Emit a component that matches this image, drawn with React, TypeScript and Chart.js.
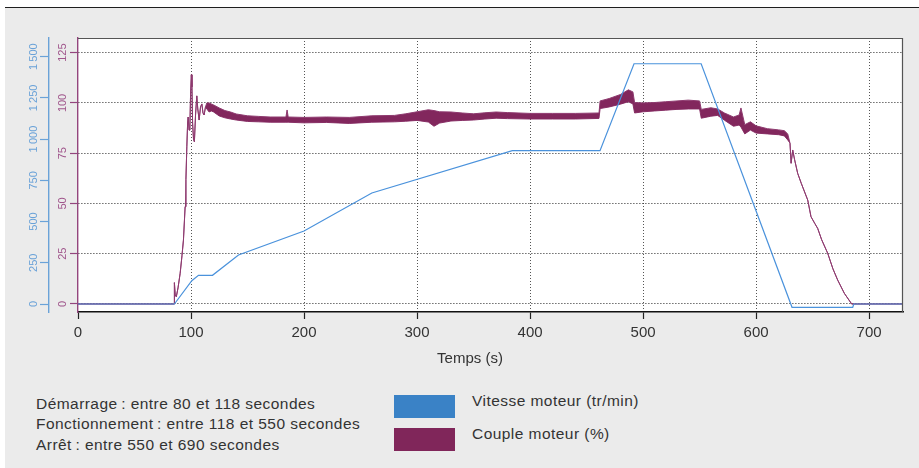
import { useEffect, useRef } from "react";
import { Chart, registerables } from "chart.js";

Chart.register(...registerables);

// Vitesse moteur (tr/min) en fonction du temps (s)
const tempsVitesse = [0, 85.3, 100.7, 106.6, 119, 142, 200, 260, 384.3, 461.9, 492, 551.4, 631.8, 685.5, 686.5, 730];
const vitesse = [0, 0, 141, 174, 174, 297, 443, 673, 930, 930, 1457, 1457, -20, -20, 0, 0];

// Couple moteur (%) : enveloppe haute et basse du signal mesuré
const tempsCouple = [
  0, 85, 85.3, 86, 87, 88.5, 90.4, 92, 93.3, 94.8, 95.5, 96.3, 97, 97.5, 98.3, 99, 99.6, 100.3, 100.8,
  101.4, 102.2, 103, 104, 105.1, 106, 107.2, 108.4, 109.6, 110.6, 111.6, 112.8, 114, 116, 118, 120,
  125, 130, 135, 140, 150, 160, 170, 184, 185, 186, 200, 220, 240, 260, 280, 290, 300, 310, 315, 320,
  330, 340, 350, 360, 370, 380, 400, 420, 440, 461, 462, 470, 480, 487, 491, 492.5, 500, 510, 520, 530,
  540, 550, 551.5, 560, 566, 572, 580, 585, 586.6, 590, 595, 600, 610, 620, 625, 628, 630, 631, 632.4,
  634, 636.8, 640, 645.7, 648.6, 652, 654.5, 658, 663.4, 668, 672.2, 678.1, 684.6, 730,
];
const coupleHaut = [
  0, 0, 10.6, 4.5, 3.6, 8, 15.3, 24, 31.8, 48.4, 62, 78.2, 90, 93, 86.5, 88, 104, 114, 108,
  90, 82, 80.7, 94, 103.5, 97, 91.5, 98, 99.5, 95, 94, 98, 100, 100, 99.5, 99,
  97.5, 96.2, 95.5, 94.5, 93.6, 93.3, 93, 93, 96.5, 93, 92.8, 93, 92.8, 93.6, 93.8, 94.6, 95.6, 96.6, 96.2, 95.6,
  95.5, 95, 94.6, 95.1, 95.5, 95.2, 94.8, 94.8, 94.8, 95, 101, 102.2, 104.2, 106.5, 105.5, 100.2, 100, 100.2, 100.6, 101,
  101.4, 101, 96.8, 97.6, 97, 95, 93, 94, 97.5, 89.2, 90.6, 88.6, 87.2, 86.6, 86.2, 84.6, 80, 70, 76.6,
  72, 65, 60, 51.7, 43.4, 40, 37.6, 32, 25.2, 17.5, 11.9, 5.3, 0, 0,
];
const coupleBas = [
  0, 0, 10.6, 4.5, 3.6, 8, 15.3, 24, 31.8, 48.4, 62, 78.2, 90, 93, 86.5, 88, 104, 114, 108,
  90, 82, 80.7, 94, 103.5, 97, 91.5, 98, 99.5, 95, 94, 98, 97, 95.5, 96, 95.5,
  93.5, 92.6, 92, 91.5, 90.8, 90.6, 90.4, 90.4, 90.4, 90.4, 90.1, 90.3, 89.8, 90.4, 90.6, 90.9, 91.3, 90.5, 88.4, 90,
  91, 91.3, 91.5, 92, 92.4, 92.2, 92, 92, 92, 92.3, 97.2, 98, 99.4, 100.6, 99.5, 95, 95.6, 96, 96.4, 96.8,
  97, 97, 92.4, 93.4, 93.8, 91.4, 88.4, 89, 88, 84.6, 86.5, 85, 84.6, 84.2, 83.6, 81.6, 80, 70, 76.6,
  72, 65, 60, 51.7, 43.4, 40, 37.6, 32, 25.2, 17.5, 11.9, 5.3, 0, 0,
];

// Graduations
const ticksTemps = [0, 100, 200, 300, 400, 500, 600, 700];
const ticksCouple = [0, 25, 50, 75, 100, 125];
const ticksVitesse = [0, 250, 500, 750, 1000, 1250, 1500];
const labelsCouple = ["0", "25", "50", "75", "100", "125"];
const labelsVitesse = ["0", "250", "500", "750", "1\u2009000", "1\u2009250", "1\u2009500"];

const phases = [
  "Démarrage\u202F: entre 80 et 118 secondes",
  "Fonctionnement\u202F: entre 118 et 550 secondes",
  "Arrêt\u202F: entre 550 et 690 secondes",
];
const legendeSeries = ["Vitesse moteur (tr/min)", "Couple moteur (%)"];

const BLEU = "#4a92dc";
const BLEU_AXE = "#6aa2d8";
const VIOLET = "#82275d";
const VIOLET_AXE = "#93457d";
const FONT = "'Liberation Sans', Arial, Helvetica, sans-serif";

const fondZone = {
  id: "fondZone",
  beforeDraw(chart: any) {
    const { ctx, chartArea: a } = chart;
    ctx.save();
    ctx.fillStyle = "#ffffff";
    ctx.fillRect(a.left, a.top, a.right - a.left, a.bottom - a.top);
    ctx.restore();
  },
  afterDraw(chart: any) {
    const { ctx, chartArea: a } = chart;
    ctx.save();
    ctx.strokeStyle = "#555555";
    ctx.lineWidth = 1.2;
    ctx.beginPath();
    ctx.moveTo(a.left, a.top + 0.5);
    ctx.lineTo(a.right - 0.5, a.top + 0.5);
    ctx.lineTo(a.right - 0.5, a.bottom);
    ctx.stroke();
    ctx.restore();
  },
};

// Étiquettes verticales des deux axes de gauche
const etiquettesVerticales = {
  id: "etiquettesVerticales",
  afterDraw(chart: any) {
    const ctx = chart.ctx;
    const axes: [string, string[], string][] = [
      ["yCouple", labelsCouple, "#a0568c"],
      ["yVitesse", labelsVitesse, BLEU_AXE],
    ];
    for (const [id, labels, color] of axes) {
      const scale = chart.scales[id];
      const x = scale.right - 15.5;
      scale.ticks.forEach((t: any, i: number) => {
        const y = scale.getPixelForValue(t.value);
        ctx.save();
        ctx.translate(x, y);
        ctx.rotate(-Math.PI / 2);
        ctx.font = `11px ${FONT}`;
        ctx.fillStyle = color;
        ctx.textAlign = "center";
        ctx.textBaseline = "middle";
        ctx.fillText(labels[i], 0, 0);
        ctx.restore();
      });
    }
  },
};

function Graphique() {
  const ref = useRef<HTMLCanvasElement>(null);

  useEffect(() => {
    if (!ref.current) return;
    const chart = new Chart(ref.current, {
      type: "line",
      data: {
        datasets: [
          {
            label: legendeSeries[0],
            data: tempsVitesse.map((t, i) => ({ x: t, y: vitesse[i] })),
            yAxisID: "yVitesse",
            borderColor: BLEU,
            borderWidth: 1.2,
            pointRadius: 0,
            fill: false,
          },
          {
            label: legendeSeries[1],
            data: tempsCouple.map((t, i) => ({ x: t, y: coupleHaut[i] })),
            yAxisID: "yCouple",
            borderColor: "#8e3a6f",
            borderWidth: 1,
            pointRadius: 0,
            backgroundColor: VIOLET,
            fill: "+1",
          },
          {
            label: legendeSeries[1],
            data: tempsCouple.map((t, i) => ({ x: t, y: coupleBas[i] })),
            yAxisID: "yCouple",
            borderColor: "#8e3a6f",
            borderWidth: 1,
            pointRadius: 0,
            fill: false,
          },
        ],
      },
      options: {
        animation: false,
        responsive: false,
        devicePixelRatio: 1,
        events: [],
        layout: { padding: { left: 0, top: 38, right: 16, bottom: 0 } },
        plugins: { legend: { display: false }, tooltip: { enabled: false } },
        scales: {
          x: {
            type: "linear",
            position: "bottom",
            min: 0,
            max: 730,
            afterBuildTicks: (s: any) => {
              s.ticks = ticksTemps.map((v) => ({ value: v }));
            },
            afterFit: (s: any) => {
              s.height = 60;
            },
            grid: {
              color: (c: any) => (c.tick && c.tick.value === 0 ? "rgba(0,0,0,0)" : "#555555"),
              lineWidth: 1,
              tickLength: 7,
              tickColor: "#222222",
              tickWidth: 1.2,
            },
            border: { display: true, color: "#111111", width: 1.5, dash: [1, 2] },
            ticks: {
              color: "#333333",
              font: { family: FONT, size: 15 },
              padding: 5,
              maxRotation: 0,
              minRotation: 0,
              autoSkip: false,
            },
          },
          yCouple: {
            type: "linear",
            position: "left",
            weight: 0,
            min: -3.98,
            max: 132.3,
            afterBuildTicks: (s: any) => {
              s.ticks = ticksCouple.map((v) => ({ value: v }));
            },
            afterFit: (s: any) => {
              s.width = 29;
            },
            grid: {
              color: "#222222",
              lineWidth: 1,
              tickLength: 8,
              tickColor: VIOLET_AXE,
              tickWidth: 1.2,
            },
            border: { display: true, color: VIOLET_AXE, width: 1.4, dash: [1, 2] },
            ticks: { display: false },
          },
          yVitesse: {
            type: "linear",
            position: "left",
            weight: 1,
            min: -48.5,
            max: 1613,
            afterBuildTicks: (s: any) => {
              s.ticks = ticksVitesse.map((v) => ({ value: v }));
            },
            afterFit: (s: any) => {
              s.width = 49;
            },
            grid: {
              drawOnChartArea: false,
              color: BLEU_AXE,
              tickLength: 9,
              tickColor: BLEU_AXE,
              tickWidth: 1.2,
            },
            border: { display: true, color: BLEU_AXE, width: 1.4 },
            ticks: { display: false },
          },
        },
      } as any,
      plugins: [fondZone, etiquettesVerticales],
    });
    return () => chart.destroy();
  }, []);

  return (
    <canvas
      ref={ref}
      width={919}
      height={372}
      style={{ position: "absolute", left: 0, top: 0 }}
    />
  );
}

export default function App() {
  const texte: React.CSSProperties = {
    position: "absolute",
    fontFamily: FONT,
    color: "#333333",
    whiteSpace: "nowrap",
  };
  return (
    <div style={{ position: "absolute", left: 0, top: 0, width: 919, height: 468, background: "#ffffff", overflow: "hidden" }}>
      <div style={{ position: "absolute", left: 5, top: 8, width: 914, height: 460, background: "#ebebeb" }} />
      <div style={{ position: "absolute", left: 5, top: 6.5, width: 914, height: 1.6, background: "#1e1e1e" }} />
      <Graphique />
      <div style={{ ...texte, left: 0, width: 940, top: 348, fontSize: 15, lineHeight: "20px", textAlign: "center" }}>
        Temps (s)
      </div>
      <div style={{ ...texte, left: 36, top: 393.5, fontSize: 15.5, lineHeight: "20.5px", letterSpacing: 0.45 }}>
        {phases.map((p) => (
          <div key={p}>{p}</div>
        ))}
      </div>
      <div style={{ position: "absolute", left: 394, top: 395, width: 61, height: 23, background: "#3a82c6" }} />
      <div style={{ position: "absolute", left: 394, top: 428, width: 61, height: 23, background: "#80265a" }} />
      <div style={{ ...texte, left: 472, top: 391, fontSize: 15.5, lineHeight: "20px", letterSpacing: 0.45 }}>
        {legendeSeries[0]}
      </div>
      <div style={{ ...texte, left: 472, top: 424, fontSize: 15.5, lineHeight: "20px", letterSpacing: 0.45 }}>
        {legendeSeries[1]}
      </div>
    </div>
  );
}
